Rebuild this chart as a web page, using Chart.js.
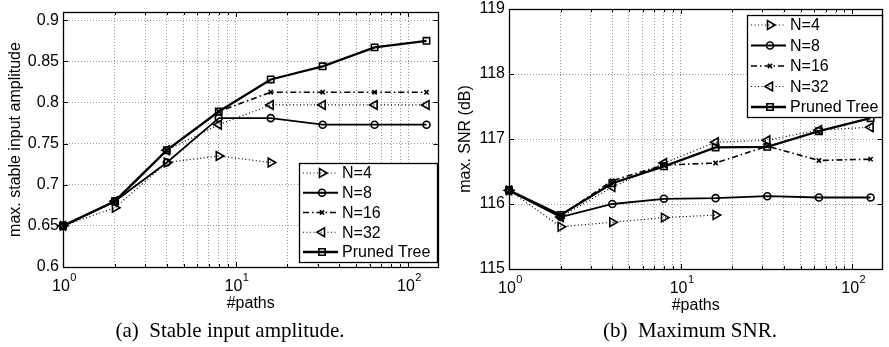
<!DOCTYPE html>
<html>
<head>
<meta charset="utf-8">
<script src="https://cdn.jsdelivr.net/npm/chart.js@4/dist/chart.umd.min.js"></script>
<style>
    body { margin: 0; background: #fff; width: 889px; height: 347px; position: relative; overflow: hidden; }
    canvas { position: absolute; top: 0; }
    .cap { position: absolute; top: 316px; font-family: "Liberation Serif", "Times New Roman", serif; font-size: 21px; line-height: 28px; white-space: pre; transform: translateX(-50%); color: #000; }
</style>
</head>
<body>
<canvas id="ampChart" width="445" height="347" style="left:0"></canvas>
<canvas id="snrChart" width="444" height="347" style="left:445px"></canvas>
<div class="cap" style="left:230px">(a)  Stable input amplitude.</div>
<div class="cap" style="left:690px">(b)  Maximum SNR.</div>
<script>
    // данные
    var paths = [1, 2, 4, 8, 16, 32, 64, 128];
    var seriesNames = ['N=4', 'N=8', 'N=16', 'N=32', 'Pruned Tree'];

    var ampN4 = [0.650, 0.672, 0.727, 0.735, 0.727];
    var ampN8 = [0.650, 0.680, 0.727, 0.781, 0.781, 0.773, 0.773, 0.773];
    var ampN16 = [0.650, 0.680, 0.742, 0.789, 0.8125, 0.8125, 0.8125, 0.8125];
    var ampN32 = [0.650, 0.680, 0.742, 0.773, 0.797, 0.797, 0.797, 0.797];
    var ampPruned = [0.650, 0.680, 0.742, 0.789, 0.828, 0.844, 0.867, 0.875];

    var snrN4 = [116.21, 115.65, 115.72, 115.79, 115.83];
    var snrN8 = [116.21, 115.80, 116.00, 116.08, 116.09, 116.12, 116.10, 116.10];
    var snrN16 = [116.21, 115.82, 116.36, 116.60, 116.63, 116.89, 116.67, 116.69];
    var snrN32 = [116.21, 115.80, 116.26, 116.63, 116.95, 116.98, 117.14, 117.18];
    var snrPruned = [116.21, 115.83, 116.32, 116.58, 116.87, 116.88, 117.12, 117.32];

    var xTicks = [1, 2, 3, 4, 5, 6, 7, 8, 9, 10, 20, 30, 40, 50, 60, 70, 80, 90, 100];
    var xMajor = [1, 10, 100];
    var xMajorExp = ['0', '1', '2'];
    var ampTicks = [0.6, 0.65, 0.7, 0.75, 0.8, 0.85, 0.9];
    var ampTickLabels = ['0.6', '0.65', '0.7', '0.75', '0.8', '0.85', '0.9'];
    var snrTicks = [115, 116, 117, 118, 119];
    var snrTickLabels = ['115', '116', '117', '118', '119'];

    // стили линий как в MATLAB
    var styles = [
        { dash: [1, 2.5], width: 1.2, point: 'triangle', rot: 90, r: 5 },
        { dash: [], width: 1.8, point: 'circle', rot: 0, r: 3.5 },
        { dash: [6, 3, 1.5, 3], width: 1.6, point: 'crossRot', rot: 0, r: 3 },
        { dash: [1, 2.5], width: 1.2, point: 'triangle', rot: -90, r: 5 },
        { dash: [], width: 2.3, point: 'rect', rot: 0, r: 4.5 }
    ];

    var font = '"Liberation Sans", Arial, sans-serif';

    function makeDatasets(list) {
        return list.map(function (vals, i) {
            var st = styles[i];
            return {
                label: seriesNames[i],
                data: vals.map(function (v, k) { return { x: paths[k], y: v }; }),
                borderColor: '#000',
                borderWidth: st.width,
                borderDash: st.dash,
                pointStyle: st.point,
                pointRotation: st.rot,
                pointRadius: st.r,
                pointBorderWidth: 1.6,
                pointBorderColor: '#000',
                pointBackgroundColor: 'rgba(0,0,0,0)',
                tension: 0,
                fill: false,
                clip: false,
                order: list.length - i
            };
        });
    }

    var matlabAxes = {
        id: 'matlabAxes',
        afterDatasetsDraw: function (chart, args, opts) {
            var ctx = chart.ctx, a = chart.chartArea;
            var xs = chart.scales.x, ys = chart.scales.y;
            ctx.save();
            ctx.strokeStyle = '#000';
            ctx.lineWidth = 1;
            ctx.setLineDash([]);
            ctx.beginPath();
            xTicks.forEach(function (v) {
                var px = Math.round(xs.getPixelForValue(v)) + 0.5;
                var len = xMajor.indexOf(v) >= 0 ? 5 : 3;
                ctx.moveTo(px, a.bottom); ctx.lineTo(px, a.bottom - len);
                ctx.moveTo(px, a.top); ctx.lineTo(px, a.top + len);
            });
            opts.yTicks.forEach(function (v) {
                var py = Math.round(ys.getPixelForValue(v)) + 0.5;
                ctx.moveTo(a.left, py); ctx.lineTo(a.left + 5, py);
                ctx.moveTo(a.right, py); ctx.lineTo(a.right - 5, py);
            });
            ctx.stroke();
            ctx.lineWidth = 1.3;
            ctx.strokeRect(Math.round(a.left) + 0.5, Math.round(a.top) + 0.5, Math.round(a.right - a.left), Math.round(a.bottom - a.top));
            ctx.restore();
        },
        afterDraw: function (chart, args, opts) {
            var ctx = chart.ctx, a = chart.chartArea;
            var xs = chart.scales.x, ys = chart.scales.y;
            ctx.save();
            ctx.fillStyle = '#000';
            // подписи оси Y
            ctx.font = '16px ' + font;
            ctx.textAlign = 'right';
            ctx.textBaseline = 'middle';
            opts.yTicks.forEach(function (v, i) {
                ctx.fillText(opts.yLabels[i], a.left - 4, ys.getPixelForValue(v));
            });
            // подписи оси X: 10^n
            xMajor.forEach(function (v, i) {
                var px = xs.getPixelForValue(v);
                ctx.font = '16px ' + font;
                var w1 = ctx.measureText('10').width;
                ctx.font = '11px ' + font;
                var w2 = ctx.measureText(xMajorExp[i]).width;
                var x0 = px - (w1 + w2) / 2 + 1;
                ctx.textAlign = 'left';
                ctx.font = '16px ' + font;
                ctx.fillText('10', x0, a.bottom + 20);
                ctx.font = '11px ' + font;
                ctx.fillText(xMajorExp[i], x0 + w1 + 0.5, a.bottom + 11);
            });
            // названия осей
            ctx.font = '16px ' + font;
            ctx.textAlign = 'center';
            ctx.fillText('#paths', (a.left + a.right) / 2, a.bottom + 37);
            ctx.save();
            ctx.translate(opts.yTitleX, (a.top + a.bottom) / 2);
            ctx.rotate(-Math.PI / 2);
            ctx.fillText(opts.yTitle, 0, 0);
            ctx.restore();
            // легенда
            var lg = opts.legend;
            ctx.fillStyle = '#fff';
            ctx.fillRect(lg.x, lg.y, lg.w, lg.h);
            ctx.strokeStyle = '#000';
            ctx.lineWidth = 1.3;
            ctx.strokeRect(lg.x + 0.5, lg.y + 0.5, lg.w, lg.h);
            var step = (lg.h - 20) / (seriesNames.length - 1);
            seriesNames.forEach(function (name, i) {
                var st = styles[i];
                var cy = lg.y + 10 + i * step;
                ctx.beginPath();
                ctx.setLineDash(st.dash);
                ctx.lineWidth = st.width;
                ctx.moveTo(lg.x + 4, cy); ctx.lineTo(lg.x + 39, cy);
                ctx.stroke();
                ctx.setLineDash([]);
                ctx.lineWidth = 1.6;
                ctx.fillStyle = 'rgba(0,0,0,0)';
                Chart.helpers.drawPoint(ctx, { pointStyle: st.point, rotation: st.rot, radius: st.r, borderWidth: 1.6 }, lg.x + 23, cy);
                ctx.fillStyle = '#000';
                ctx.font = '16px ' + font;
                ctx.textAlign = 'left';
                ctx.textBaseline = 'middle';
                ctx.fillText(name, lg.x + 43, cy + 1);
            });
            ctx.restore();
        }
    };

    function makeConfig(datasets, yMin, yMax, yTicks, yLabels, yTitle, yTitleX, pad, legend) {
        return {
            type: 'line',
            data: { datasets: datasets },
            plugins: [matlabAxes],
            options: {
                responsive: false,
                animation: false,
                events: [],
                layout: { padding: pad },
                plugins: {
                    legend: { display: false },
                    tooltip: { enabled: false },
                    matlabAxes: { yTicks: yTicks, yLabels: yLabels, yTitle: yTitle, yTitleX: yTitleX, legend: legend }
                },
                scales: {
                    x: {
                        type: 'logarithmic',
                        min: 1,
                        max: 150,
                        afterBuildTicks: function (s) { s.ticks = xTicks.map(function (v) { return { value: v }; }); },
                        afterFit: function (s) { s.height = 0; },
                        ticks: { display: false },
                        grid: { color: '#999', lineWidth: 1, drawTicks: false },
                        border: { display: false, dash: [1, 2] }
                    },
                    y: {
                        type: 'linear',
                        min: yMin,
                        max: yMax,
                        afterBuildTicks: function (s) { s.ticks = yTicks.map(function (v) { return { value: v }; }); },
                        afterFit: function (s) { s.width = 0; },
                        ticks: { display: false },
                        grid: { color: '#999', lineWidth: 1, drawTicks: false },
                        border: { display: false, dash: [1, 2] }
                    }
                }
            }
        };
    }

    var ampChart = new Chart(document.getElementById('ampChart'), makeConfig(
        makeDatasets([ampN4, ampN8, ampN16, ampN32, ampPruned]),
        0.6, 0.91, ampTicks, ampTickLabels, 'max. stable input amplitude', 16,
        { left: 63, right: 5, top: 12, bottom: 80 },
        { x: 299, y: 163, w: 138, h: 99 }
    ));

    var snrChart = new Chart(document.getElementById('snrChart'), makeConfig(
        makeDatasets([snrN4, snrN8, snrN16, snrN32, snrPruned]),
        115, 119, snrTicks, snrTickLabels, 'max. SNR (dB)', 21,
        { left: 64, right: 1, top: 9, bottom: 78 },
        { x: 302, y: 15, w: 135, h: 102 }
    ));
</script>
</body>
</html>
